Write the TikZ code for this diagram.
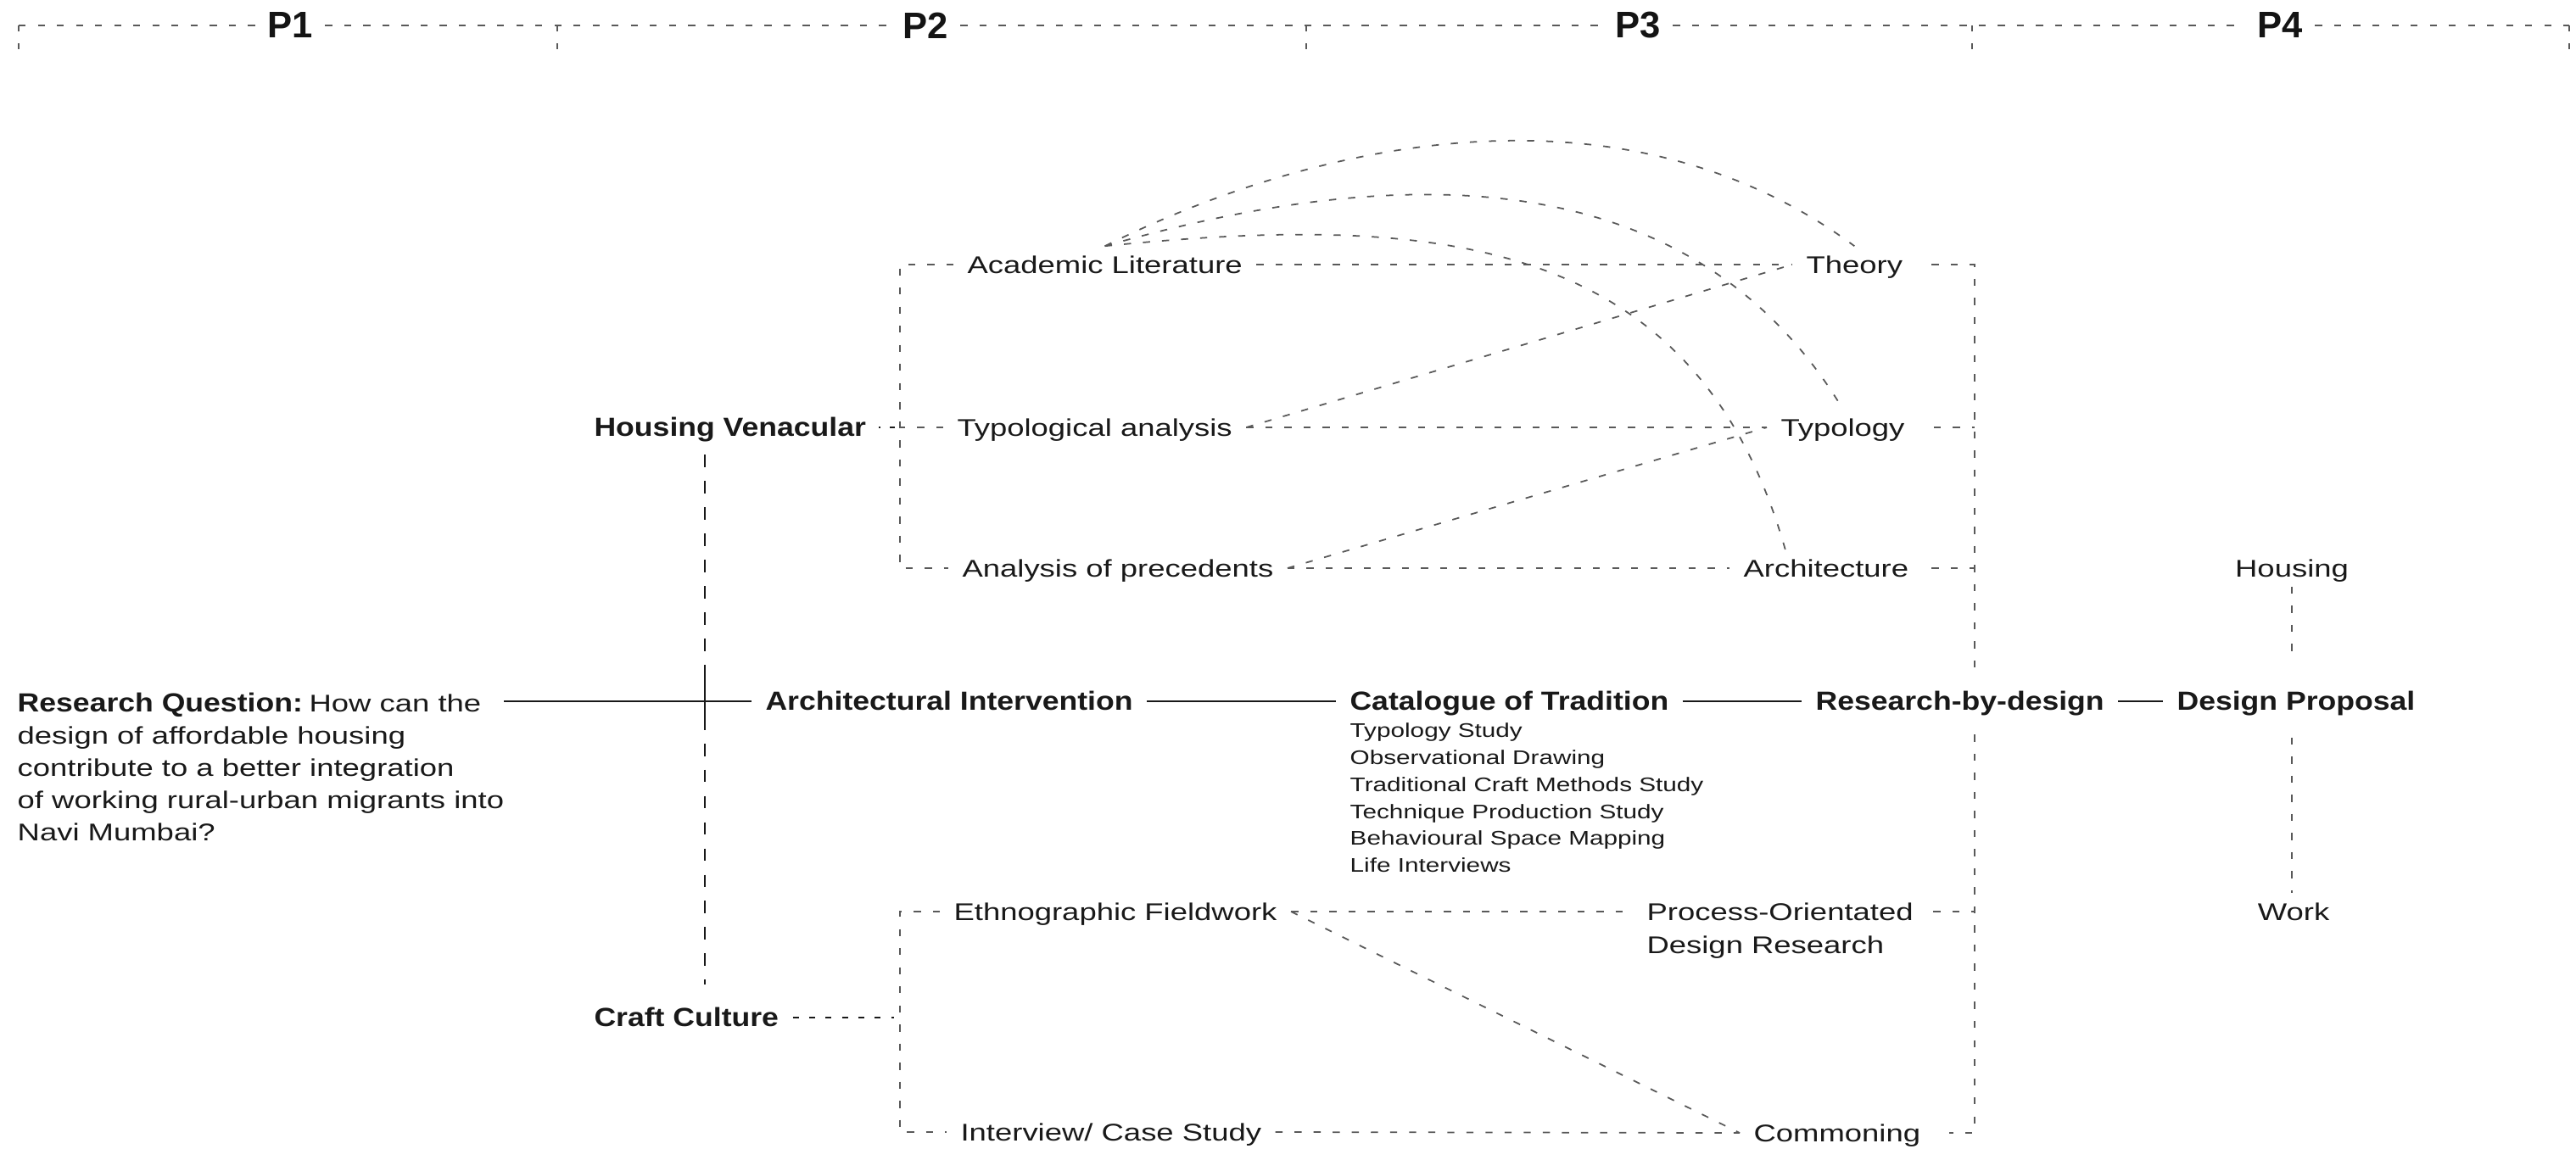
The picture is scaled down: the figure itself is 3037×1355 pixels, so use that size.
\documentclass[tikz,border=0pt]{standalone}
\usepackage{fontspec}
\newfontfamily\reg{Liberation Sans}[FakeStretch=1.28]
\newfontfamily\bld{Liberation Sans}[FakeStretch=1.15]
\newfontfamily\pfont{Liberation Sans}
\usetikzlibrary{calc}
\begin{document}
\begin{tikzpicture}[x=0.01cm, y=-0.01cm,
  lbl/.style={anchor=west, inner xsep=4.5pt, inner ysep=3pt, text height=6pt, text depth=0pt, text=black!90, font=\reg\fontsize{8.1}{10}\selectfont},
  blbl/.style={lbl, font=\bld\bfseries\fontsize{8.8}{10}\selectfont},
  plbl/.style={inner xsep=4pt, inner ysep=2pt, text=black!92, font=\pfont\bfseries\fontsize{12.4}{14}\selectfont},
  conn/.style={draw=black!65, line width=0.5pt, dash pattern=on 2.4pt off 4pt},
  mainline/.style={draw=black!90, line width=0.75pt},
  hvdash/.style={draw=black!90, line width=0.7pt, dash pattern=on 1.6pt off 3.2pt},
  ccdash/.style={draw=black!90, line width=0.7pt, dash pattern=on 2pt off 3.5pt},
  spine/.style={draw=black!90, line width=0.6pt, dash pattern=on 4.2pt off 4.6pt},
  tickline/.style={draw=black!65, line width=0.5pt, dash pattern=on 2pt off 4.1pt}
]
\useasboundingbox (0,0) rectangle (3037,1355);

% ---- ruler
\coordinate (t0) at (22,30);
\coordinate (t1) at (657,30);
\coordinate (t2) at (1540,30);
\coordinate (t3) at (2325,30);
\coordinate (t4) at (3029,30);
\node[plbl] (p1) at (342,30) {P1};
\node[plbl] (p2) at (1091,30) {P2};
\node[plbl] (p3) at (1931,30) {P3};
\node[plbl] (p4) at (2688,30) {P4};
\draw[conn] (t0) -- (p1.west);
\draw[conn] (p1.east) -- (t1) -- (p2.west);
\draw[conn] (p2.east) -- (t2) -- (p3.west);
\draw[conn] (p3.east) -- (t3) -- (p4.west);
\draw[conn] (p4.east) -- (t4);
\foreach \t in {t0,t1,t2,t3,t4} \draw[tickline] (\t) -- ++(0,28);

% ---- nodes
\node[lbl] (al) at (1124,312) {Academic Literature};
\node[lbl] (ta) at (1112,504) {Typological analysis};
\node[lbl] (aop) at (1118,670) {Analysis of precedents};
\node[lbl] (theory) at (2113,312) {Theory};
\node[lbl] (typ) at (2083,504) {Typology};
\node[lbl] (arch) at (2039,670) {Architecture};
\node[lbl, anchor=center] (housing) at (2702,670) {Housing};
\node[lbl, anchor=center] (work) at (2704,1075) {Work};
\node[lbl] (ef) at (1108,1075) {Ethnographic Fieldwork};
\node[lbl] (ics) at (1116,1335) {Interview/ Case Study};
\node[lbl] (po) at (1925,1075) {Process-Orientated};
\node[lbl] (po2) at (1925,1114) {Design Research};
\node[lbl] (com) at (2051,1336) {Commoning};
\node[blbl] (hv) at (684,504) {Housing Venacular};
\node[blbl] (cc) at (684,1200) {Craft Culture};
\node[blbl] (ai) at (886,827) {Architectural Intervention};
\node[blbl] (cat) at (1575,827) {Catalogue of Tradition};
\node[blbl] (rbd) at (2124,827) {Research-by-design};
\node[blbl] (dp) at (2550,827) {Design Proposal};
\node[anchor=north west, inner sep=0pt, align=left, text=black!90,
      font=\reg\fontsize{6.6}{9.05}\selectfont] (list) at (1591,852)
  {Typology Study\\Observational Drawing\\Traditional Craft Methods Study\\Technique Production Study\\Behavioural Space Mapping\\Life Interviews};
\node[anchor=north west, inner sep=0pt, align=left, text=black!90,
      font=\reg\fontsize{8.1}{10.8}\selectfont] (rq) at (20,816)
  {{\bld\bfseries\fontsize{8.8}{10.8}\selectfont Research Question:}\hspace{2.2pt}How can the\\design of affordable housing\\contribute to a better integration\\of working rural-urban migrants into\\Navi Mumbai?};

% ---- helper coordinates
\coordinate (lb) at (1061,312);
\coordinate (rv) at (2328,312);
\coordinate (vx) at (831,504);
\coordinate (dvx) at (2702,827);
\coordinate (rqend) at (594,827);

% ---- main row
\draw[mainline] (rqend) -- (ai.west);
\draw[mainline] (ai.east) -- (cat.west);
\draw[mainline] (cat.east) -- (rbd.west);
\draw[mainline] (rbd.east) -- (dp.west);

% ---- spine Housing Venacular / Craft Culture
\draw[spine, shorten <=3pt, shorten >=5pt] (vx |- hv.south) -- (vx |- cc.north);
\draw[mainline] ($(vx |- ai.west)+(0,-30)$) -- ($(vx |- ai.west)+(0,26)$);

% ---- left brackets
\draw[conn] (al.west) -- (al.west -| lb) -- (aop.west -| lb) -- (aop.west);
\draw[conn] (ta.west) -- (ta.west -| lb);
\draw[hvdash, shorten <=-5pt, shorten >=7pt] (hv.east) -- (hv.east -| lb);
\draw[conn] (ef.west) -- (ef.west -| lb) -- (ics.west -| lb) -- (ics.west);
\draw[ccdash, shorten >=2pt] (cc.east) -- (cc.east -| lb);

% ---- right column
\draw[conn, shorten <=5pt, shorten >=5pt] (theory.east) -- (rv) -- (rv |- rbd.north);
\draw[conn, shorten <=5pt, shorten >=5pt] (rv |- rbd.south) -- (rv |- com.east) -- (com.east);
\draw[conn, shorten <=5pt] (typ.east) -- (typ.east -| rv);
\draw[conn, shorten <=3pt] (arch.east) -- (arch.east -| rv);
\draw[conn, shorten <=2pt] (po.east) -- (po.east -| rv);

% ---- cross links
\draw[conn] (al.east) -- (theory.west);
\draw[conn] (ta.east) -- (theory.west);
\draw[conn] (ta.east) -- (typ.west);
\draw[conn] (aop.east) -- (typ.west);
\draw[conn] (aop.east) -- (arch.west);
\draw[conn] (ef.east) -- (po.west);
\draw[conn] (ef.east) -- (com.west);
\draw[conn] (ics.east) -- (com.west);

% ---- arcs
\draw[conn] (al.north) .. controls (1579,153) and (1927,98) .. (theory.north);
\draw[conn] (al.north) .. controls (1635,195) and (1990,180) .. (typ.north);
\draw[conn] (al.north) .. controls (1700,250) and (2000,280) .. ([xshift=-0.48cm]arch.north);

% ---- design proposal verticals
\draw[conn, shorten >=8pt] (housing.south) -- (housing.south |- dp.north);
\draw[conn, shorten <=6pt] (dvx |- dp.south) -- (dvx |- work.north);
\end{tikzpicture}
\end{document}
